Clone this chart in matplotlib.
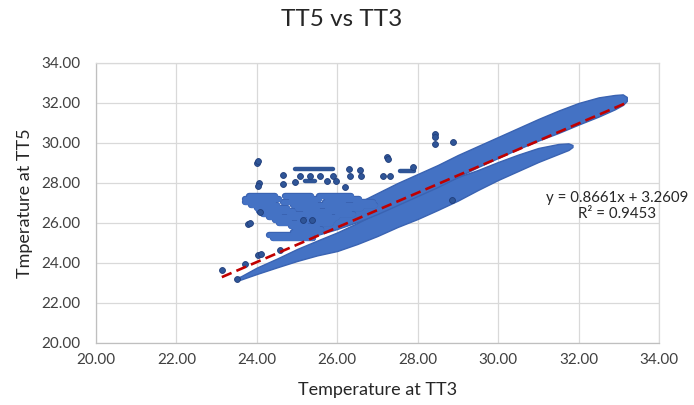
import matplotlib.pyplot as plt
import matplotlib.ticker as mticker

plt.rcParams['font.family'] = ['Lato', 'DejaVu Sans']

# main cloud, upper branch: TT5 spread (low/high) at each TT3 value
ub_tt3 = [25.20, 25.50, 26.00, 26.50, 27.00, 27.50, 28.00, 28.50, 29.00, 29.50,
          30.00, 30.50, 31.00, 31.50, 32.00, 32.50, 32.90, 33.10, 33.20]
ub_low = [25.25, 25.40, 25.70, 26.05, 26.45, 26.90, 27.35, 27.80, 28.30, 28.80,
          29.25, 29.70, 30.12, 30.50, 30.92, 31.32, 31.68, 31.90, 32.10]
ub_high = [25.80, 26.05, 26.50, 27.00, 27.50, 28.00, 28.45, 28.90, 29.40, 29.85,
           30.30, 30.75, 31.20, 31.62, 32.00, 32.28, 32.40, 32.43, 32.30]

# main cloud, lower branch
lb_tt3 = [23.50, 23.60, 24.00, 24.50, 25.00, 25.50, 26.00, 26.50, 27.00, 27.50,
          28.00, 28.50, 29.00, 29.50, 30.00, 30.50, 31.00, 31.50, 31.75, 31.85]
lb_low = [23.17, 23.17, 23.45, 23.78, 24.10, 24.38, 24.60, 24.95, 25.35, 25.80,
          26.20, 26.65, 27.12, 27.65, 28.15, 28.60, 29.05, 29.45, 29.65, 29.80]
lb_high = [23.27, 23.33, 23.77, 24.22, 24.70, 25.12, 25.53, 26.00, 26.50, 27.00,
           27.45, 27.90, 28.30, 28.65, 29.05, 29.42, 29.75, 29.95, 29.98, 29.90]

# runs where TT5 held steady while TT3 drifted (level, TT3 start, TT3 end)
run_tt5 = [27.35, 27.35, 27.35, 27.20, 27.20, 27.20, 27.05, 27.05, 27.05, 27.05,
           26.90, 26.90, 26.75, 26.75, 26.75, 26.60, 26.60, 26.45, 26.45, 26.45,
           26.30, 26.30, 26.15, 26.15, 26.00, 26.00, 25.85, 25.70, 25.55, 25.40,
           25.25]
run_from = [23.80, 24.70, 25.55, 23.70, 24.85, 25.75, 23.70, 24.65, 25.70, 26.45,
            23.85, 24.90, 24.00, 25.00, 25.75, 24.05, 25.20, 24.15, 24.80, 26.00,
            24.30, 25.30, 24.45, 25.05, 24.55, 25.45, 24.85, 24.95, 24.90, 24.30,
            24.40]
run_to = [24.45, 25.35, 26.35, 24.55, 25.55, 26.55, 24.40, 25.45, 26.15, 26.90,
          24.50, 26.95, 24.75, 25.50, 26.60, 24.90, 26.30, 24.55, 25.80, 26.40,
          25.05, 26.00, 24.80, 25.90, 25.20, 25.85, 25.50, 25.60, 25.55, 25.35,
          25.40]

# short rows of single readings
row_tt5 = [28.68, 28.09, 28.60]
row_from = [24.95, 25.20, 27.55]
row_to = [25.90, 25.45, 27.90]

# isolated readings
pt_tt3 = [23.13, 23.50, 23.71, 24.04, 24.10, 24.58, 24.00, 24.02, 24.05, 24.02,
          24.64, 24.66, 23.79, 23.83, 24.08, 25.07, 25.32, 25.57, 25.90, 24.95,
          25.74, 25.98, 26.32, 26.30, 26.57, 26.60, 27.23, 27.25, 27.15, 27.31,
          26.19, 28.43, 28.43, 28.43, 28.87, 25.16, 25.36, 27.89, 28.85]
pt_tt5 = [23.64, 23.19, 23.97, 24.38, 24.45, 24.63, 29.00, 29.10, 27.99, 27.87,
          28.41, 27.96, 25.96, 25.98, 26.54, 28.37, 28.37, 28.37, 28.37, 28.04,
          28.09, 28.09, 28.37, 28.68, 28.65, 28.37, 29.32, 29.20, 28.37, 28.37,
          27.79, 30.45, 30.30, 29.95, 30.03, 26.13, 26.13, 28.78, 27.13]

# linear trendline
slope = 0.8661
intercept = 3.2609
r_squared = 0.9453

blue = '#4472C4'
blue_rim = '#3A63B2'
dot_face = '#2F5597'
dot_edge = '#1F3D7A'
grid_c = '#D9D9D9'

fig = plt.figure(figsize=(6.94, 4.05), dpi=100)
ax = fig.add_axes([0.1383, 0.1531, 0.8112, 0.6914])

for tt3, lo, hi in [(lb_tt3, lb_low, lb_high), (ub_tt3, ub_low, ub_high)]:
    ax.fill_between(tt3, lo, hi, facecolor=blue, edgecolor=blue_rim,
                    linewidth=1.0, zorder=2)

# rim first, fill on top
for lw, col in [(4.6, blue_rim), (3.6, blue)]:
    runs = ax.hlines(run_tt5, run_from, run_to, colors=col, linewidth=lw, zorder=2)
    runs.set_capstyle('round')
rows = ax.hlines(row_tt5, row_from, row_to, colors=dot_face, linewidth=3.2, zorder=2)
rows.set_capstyle('round')
ax.scatter(pt_tt3, pt_tt5, s=18, c=dot_face, edgecolors=dot_edge, linewidths=0.6, zorder=3)

all_tt3 = lb_tt3 + ub_tt3 + pt_tt3
x_fit = [min(all_tt3), max(all_tt3)]
y_fit = [slope * x + intercept for x in x_fit]
ax.plot(x_fit, y_fit, color='#C00000', linewidth=1.9, dashes=(4, 2), zorder=4)

ax.text(0.925, 0.489, f'y = {slope}x + {intercept}\nR² = {r_squared}',
        transform=ax.transAxes, ha='center', va='center',
        multialignment='center', fontsize=10.8, color='#262626', linespacing=1.25)

ax.set_xlim(20, 34)
ax.set_ylim(20, 34)
ax.xaxis.set_major_locator(mticker.MultipleLocator(2))
ax.yaxis.set_major_locator(mticker.MultipleLocator(2))
ax.xaxis.set_major_formatter(mticker.FormatStrFormatter('%.2f'))
ax.yaxis.set_major_formatter(mticker.FormatStrFormatter('%.2f'))
ax.grid(True, color=grid_c, linewidth=0.9, zorder=0)
ax.set_axisbelow(True)
for side in ['top', 'right']:
    ax.spines[side].set_color(grid_c)
    ax.spines[side].set_linewidth(0.9)
for side in ['left', 'bottom']:
    ax.spines[side].set_color('#BFBFBF')
    ax.spines[side].set_linewidth(0.9)
ax.tick_params(axis='both', length=0, labelsize=11, labelcolor='#404040')
ax.tick_params(axis='x', pad=7)
ax.tick_params(axis='y', pad=11)

ax.set_xlabel('Temperature at TT3', fontsize=13, color='#262626', labelpad=11)
ax.set_ylabel('Tmperature at TT5', fontsize=13, color='#262626', labelpad=6)
fig.text(0.492, 0.951, 'TT5 vs TT3', ha='center', va='center', fontsize=17.5,
         color='#262626')

fig.savefig('out.png', dpi=100)
